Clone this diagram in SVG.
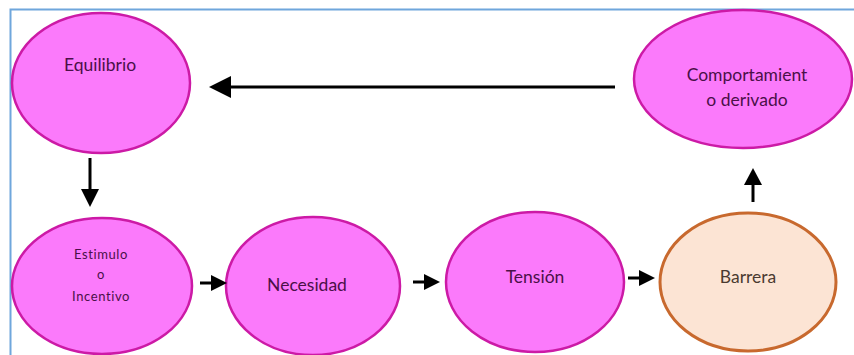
<svg xmlns="http://www.w3.org/2000/svg" width="854" height="355" viewBox="0 0 854 355">
<defs>
<style>
.pink{fill:#FB7AFB;stroke:#CC1AA6;stroke-width:2.5}
.peach{fill:#FCE4D4;stroke:#C8692E;stroke-width:3}
.t{font-family:Lato,"Open Sans",sans-serif;font-size:17.5px;fill:#4A1048;text-anchor:middle}
.s{font-family:Lato,"Open Sans",sans-serif;font-size:13px;letter-spacing:0.6px;fill:#4A1048;text-anchor:middle}
.b{fill:#4A3A30}
.c{stroke:#000;stroke-width:3;fill:none}
.h{fill:#000}
</style>
</defs>
<rect width="854" height="355" fill="#fff"/>
<path d="M10.5 358 V9.5 H856" fill="none" stroke="#6FA6DC" stroke-width="2"/>
<g id="equilibrio">
<ellipse class="pink" cx="101" cy="83" rx="89" ry="70"/>
<text class="t" x="100" y="71">Equilibrio</text>
</g>
<g id="comportamiento">
<ellipse class="pink" cx="743" cy="79" rx="109" ry="69"/>
<text class="t" x="747" y="81">Comportamient</text>
<text class="t" x="747" y="106">o derivado</text>
</g>
<g id="estimulo">
<ellipse class="pink" cx="102" cy="286" rx="90" ry="68"/>
<text class="s" x="101" y="259">Estimulo</text>
<text class="s" x="101" y="279">o</text>
<text class="s" x="101" y="301">Incentivo</text>
</g>
<g id="necesidad">
<ellipse class="pink" cx="313" cy="286" rx="87" ry="69"/>
<text class="t" x="307" y="291">Necesidad</text>
</g>
<g id="tension">
<ellipse class="pink" cx="535" cy="282" rx="89" ry="70"/>
<text class="t" x="535" y="283">Tensión</text>
</g>
<g id="barrera">
<ellipse class="peach" cx="748" cy="282" rx="88" ry="69"/>
<text class="t b" x="748" y="283">Barrera</text>
</g>
<g id="connectors">
<line class="c" x1="615" y1="87" x2="228" y2="87"/>
<polygon class="h" points="209,87 231,76 231,98"/>
<line class="c" x1="90" y1="158" x2="90" y2="192"/>
<polygon class="h" points="90,207 81,189 99,189"/>
<line class="c" x1="200" y1="283" x2="214" y2="283"/>
<polygon class="h" points="227,283 211,275 211,291"/>
<line class="c" x1="413" y1="282" x2="427" y2="282"/>
<polygon class="h" points="440,282 424,274 424,290"/>
<line class="c" x1="628" y1="278" x2="642" y2="278"/>
<polygon class="h" points="655,278 639,270 639,286"/>
<line class="c" x1="753" y1="202" x2="753" y2="182"/>
<polygon class="h" points="753,168 744,185 762,185"/>
</g>
</svg>
